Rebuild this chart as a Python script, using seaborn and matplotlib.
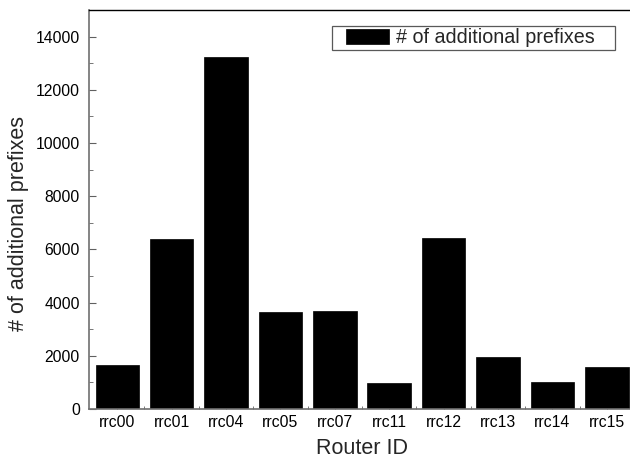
import matplotlib
matplotlib.use('Agg')
import matplotlib.pyplot as plt
import seaborn as sns
import pandas as pd
from matplotlib.ticker import MultipleLocator, FixedLocator
from matplotlib.patches import Rectangle
from matplotlib.container import BarContainer
from matplotlib.legend_handler import HandlerPatch, update_from_first_child

# Данные
routers = ['rrc00', 'rrc01', 'rrc04', 'rrc05', 'rrc07',
           'rrc11', 'rrc12', 'rrc13', 'rrc14', 'rrc15']
prefixes = [1650, 6400, 13230, 3640, 3700, 990, 6430, 1970, 1015, 1570]

df = pd.DataFrame({'router': routers, 'prefixes': prefixes})

sns.set_style('ticks')
plt.rcParams['font.family'] = ['Liberation Sans', 'DejaVu Sans']

fig = plt.figure(figsize=(6.3, 4.59), dpi=100)
ax = fig.add_axes([89 / 630, 50 / 459, 545 / 630, 399 / 459])

sns.barplot(data=df, x='router', y='prefixes', color='black', saturation=1,
            width=0.8, edgecolor='black', linewidth=0.5,
            label='# of additional prefixes', ax=ax)

ax.set_xlim(-0.52, len(routers) - 0.5)
ax.set_ylim(0, 15000)
ax.yaxis.set_major_locator(MultipleLocator(2000))
ax.yaxis.set_minor_locator(MultipleLocator(1000))
ax.xaxis.set_minor_locator(FixedLocator([i + 0.5 for i in range(len(routers) - 1)]))

ax.tick_params(axis='both', which='both', direction='in', colors='#606060',
               labelcolor='black', labelsize=11.3)
ax.tick_params(axis='y', which='major', length=5, pad=6.5)
ax.tick_params(axis='y', which='minor', length=3)
ax.tick_params(axis='x', which='major', length=4, pad=4)
ax.tick_params(axis='x', which='minor', length=2)

for side in ['left', 'bottom']:
    ax.spines[side].set_color('#707070')
    ax.spines[side].set_linewidth(1.2)
ax.spines['top'].set_color('black')
ax.spines['top'].set_linewidth(1.0)
ax.spines['right'].set_visible(False)

ax.set_xlabel('Router ID', fontsize=15.5, labelpad=6)
ax.set_ylabel('# of additional prefixes', fontsize=15.5)
ax.yaxis.set_label_coords(-0.111, 0.464)


# Прямоугольник в легенде со сдвигом вправо, как в Origin
def shifted_patch(legend, orig_handle, xdescent, ydescent, width, height, fontsize):
    return Rectangle((-xdescent + width * 0.21, -ydescent - height * 0.05),
                     width * 0.79, height * 1.1)


leg = ax.legend(loc='upper right', mode='expand',
                bbox_to_anchor=(243 / 545, 0.5, 283 / 545, 0.46),
                fancybox=False, frameon=True, fontsize=14.2,
                handlelength=2.77, handleheight=0.7, handletextpad=0.35,
                borderpad=0.12, borderaxespad=0,
                handler_map={BarContainer: HandlerPatch(patch_func=shifted_patch,
                                                        update_func=update_from_first_child)})
leg.get_frame().set_edgecolor('#303030')
leg.get_frame().set_linewidth(0.9)

plt.savefig('out.png', dpi=100)
